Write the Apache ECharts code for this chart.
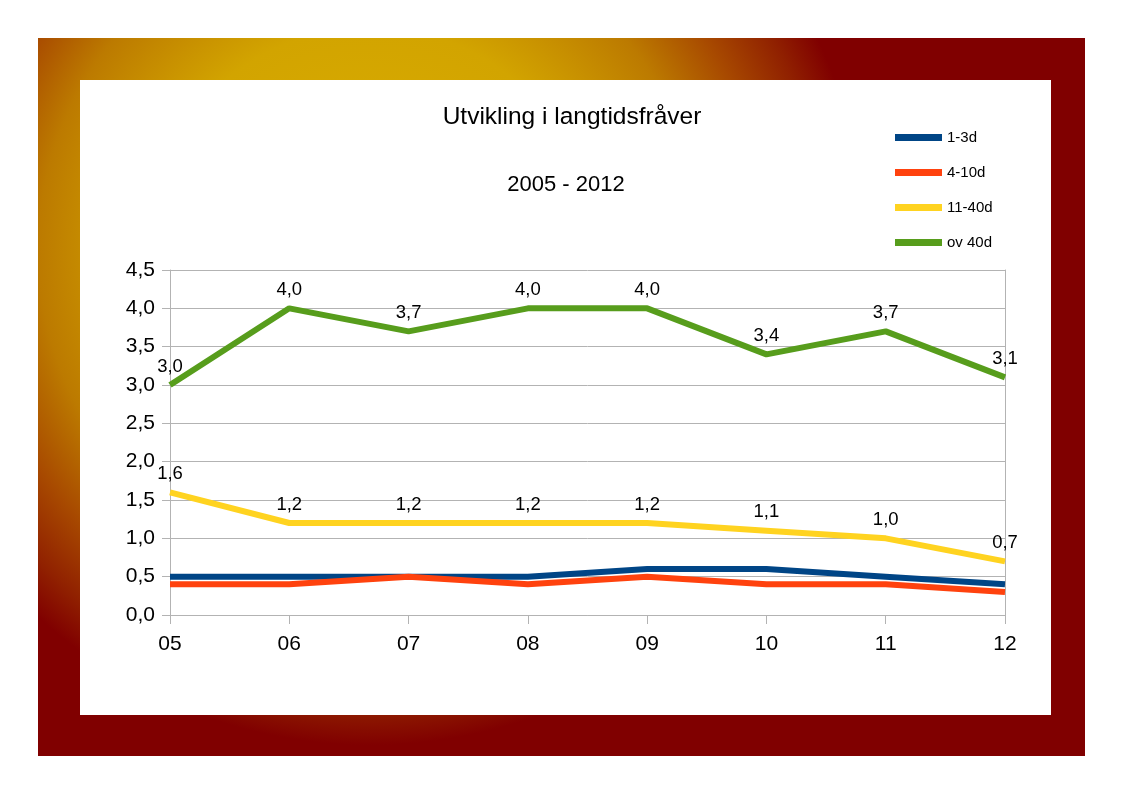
<!DOCTYPE html>
<html>
<head>
<meta charset="utf-8">
<script src="https://cdn.jsdelivr.net/npm/echarts@6/dist/echarts.min.js"></script>
<style>
html,body{margin:0;padding:0;background:#fff;}
#chart{width:1123px;height:794px;}
</style>
</head>
<body>
<div id="chart"></div>
<script>
const categories = ['05','06','07','08','09','10','11','12'];
const s1_3d = [0.5,0.5,0.5,0.5,0.6,0.6,0.5,0.4];
const s4_10d = [0.4,0.4,0.5,0.4,0.5,0.4,0.4,0.3];
const s11_40d = [1.6,1.2,1.2,1.2,1.2,1.1,1.0,0.7];
const sOv40d = [3.0,4.0,3.7,4.0,4.0,3.4,3.7,3.1];
const seriesNames = ['1-3d','4-10d','11-40d','ov 40d'];
const seriesColors = ['#004586','#FF420E','#FFD320','#579D1C'];
const titleText = 'Utvikling i langtidsfråver';
const subtitleText = '2005 - 2012';

const FONT = 'Liberation Sans, Arial, sans-serif';
const fmt = v => Number(v).toFixed(1).replace('.', ',');

const chart = echarts.init(document.getElementById('chart'), null, {renderer:'canvas'});

function mkSeries(name, data, color, labels){
  return {
    name, type:'line', data,
    symbol:'circle', symbolSize:0.1,
    showSymbol:true,
    lineStyle:{color, width:6},
    itemStyle:{color},
    label:{show:labels, position:'top', distance:9, color:'#000', fontSize:18.5, fontFamily:FONT,
      formatter:p=>fmt(p.value)},
    emphasis:{disabled:true},
    animation:false
  };
}

chart.setOption({
  backgroundColor:'#ffffff',
  animation:false,
  graphic:[
    {type:'rect', z:-10, shape:{x:38,y:38,width:1047,height:718},
      style:{fill:new echarts.graphic.RadialGradient(370,250,495,[
        {offset:0,color:'#DCB000'},
        {offset:0.45,color:'#D2A400'},
        {offset:0.67,color:'#BC7A00'},
        {offset:0.8,color:'#A84A00'},
        {offset:0.92,color:'#902000'},
        {offset:1,color:'#800000'}
      ], true)}},
    {type:'rect', z:-9, shape:{x:80,y:80,width:971,height:635}, style:{fill:'#ffffff'}}
  ],
  title:[
    {text:titleText, left:572, top:105, textAlign:'center', padding:0,
      textStyle:{fontSize:24.5, fontWeight:'normal', color:'#000', fontFamily:FONT}},
    {text:subtitleText, left:566, top:174, textAlign:'center', padding:0,
      textStyle:{fontSize:22, fontWeight:'normal', color:'#000', fontFamily:FONT}}
  ],
  legend:{
    orient:'vertical', left:895, top:130, padding:0,
    itemWidth:47, itemHeight:7, itemGap:20, icon:'rect',
    textStyle:{fontSize:15, color:'#000', fontFamily:FONT},
    data:seriesNames
  },
  grid:{left:170, top:270, width:835, height:345, containLabel:false},
  xAxis:{
    type:'category', data:categories, boundaryGap:false,
    axisLine:{show:true, lineStyle:{color:'#B3B3B3', width:1}},
    axisTick:{show:true, length:9, lineStyle:{color:'#B3B3B3'}, alignWithLabel:true},
    axisLabel:{fontSize:21, color:'#000', fontFamily:FONT, margin:19},
    splitLine:{show:false}
  },
  yAxis:[{
    type:'value', min:0, max:4.5, interval:0.5,
    axisLine:{show:true, lineStyle:{color:'#B3B3B3', width:1}},
    axisTick:{show:true, length:8, lineStyle:{color:'#B3B3B3'}},
    axisLabel:{fontSize:21, color:'#000', fontFamily:FONT, margin:15, formatter:v=>fmt(v)},
    splitLine:{show:true, lineStyle:{color:'#B3B3B3', width:1}}
  },{
    type:'value', min:0, max:4.5, interval:0.5, position:'right',
    axisLine:{show:true, lineStyle:{color:'#B3B3B3', width:1}},
    axisTick:{show:false}, axisLabel:{show:false}, splitLine:{show:false}
  }],
  series:[
    mkSeries(seriesNames[0], s1_3d, seriesColors[0], false),
    mkSeries(seriesNames[1], s4_10d, seriesColors[1], false),
    mkSeries(seriesNames[2], s11_40d, seriesColors[2], true),
    mkSeries(seriesNames[3], sOv40d, seriesColors[3], true)
  ]
});
</script>
</body>
</html>
